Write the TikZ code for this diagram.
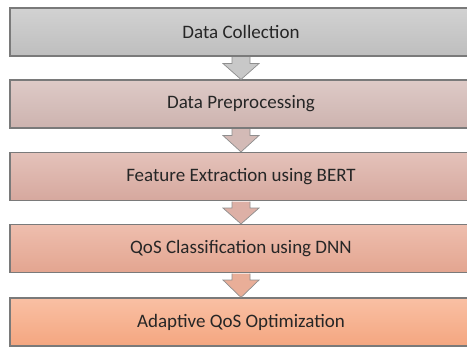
\documentclass[tikz,border=0pt]{standalone}
\usepackage{fontspec}
\setmainfont{Carlito}
\usetikzlibrary{calc}
\definecolor{boxline}{HTML}{7A7A7A}
\definecolor{arrline}{HTML}{8E8E8E}
\definecolor{txt}{HTML}{262626}
\definecolor{c1t}{HTML}{D2D2D2}
\definecolor{c1b}{HTML}{BEBEBE}
\definecolor{c2t}{HTML}{DECAC7}
\definecolor{c2b}{HTML}{CDB3AF}
\definecolor{c3t}{HTML}{E4C2BA}
\definecolor{c3b}{HTML}{D6A89E}
\definecolor{c4t}{HTML}{EEBEAE}
\definecolor{c4b}{HTML}{E3A590}
\definecolor{c5t}{HTML}{F9C0A4}
\definecolor{c5b}{HTML}{F4A680}
\definecolor{a1}{HTML}{C8C8C8}
\definecolor{a2}{HTML}{D3BAB6}
\definecolor{a3}{HTML}{DDB0A6}
\definecolor{a4}{HTML}{E9AE98}
\tikzset{
  stagebox/.style={draw=boxline, line width=1.1pt, minimum width=462pt,
    minimum height=48pt, inner sep=0pt, text=txt,
    font=\fontsize{19}{23}\selectfont},
  fatarrow/.style={draw=arrline, line width=0.7pt, line join=miter}
}
\begin{document}
\begin{tikzpicture}[x=1pt,y=-1pt]
\useasboundingbox (0,0) rectangle (467,347);
\clip (0,0) rectangle (467,347);
\node[stagebox, top color=c1t, bottom color=c1b] (s1) at (241,32) {Data Collection};
\node[stagebox, top color=c2t, bottom color=c2b] (s2) at (241,104) {Data Preprocessing};
\node[stagebox, top color=c3t, bottom color=c3b] (s3) at (241,176.5) {Feature Extraction using BERT};
\node[stagebox, top color=c4t, bottom color=c4b] (s4) at (241,248.5) {QoS Classification using DNN};
\node[stagebox, top color=c5t, bottom color=c5b] (s5) at (241,322) {Adaptive QoS Optimization};
\foreach \a/\b/\c in {s1/s2/a1, s2/s3/a2, s3/s4/a3, s4/s5/a4}{
  \draw[fatarrow, fill=\c]
    ($(\a.south)+(-9,0.6)$) -- ($(\a.south)+(-9,7)$) -- ($(\a.south)+(-18,7)$)
    -- (\b.north) -- ($(\a.south)+(18,7)$) -- ($(\a.south)+(9,7)$)
    -- ($(\a.south)+(9,0.6)$);
}
\end{tikzpicture}
\end{document}
